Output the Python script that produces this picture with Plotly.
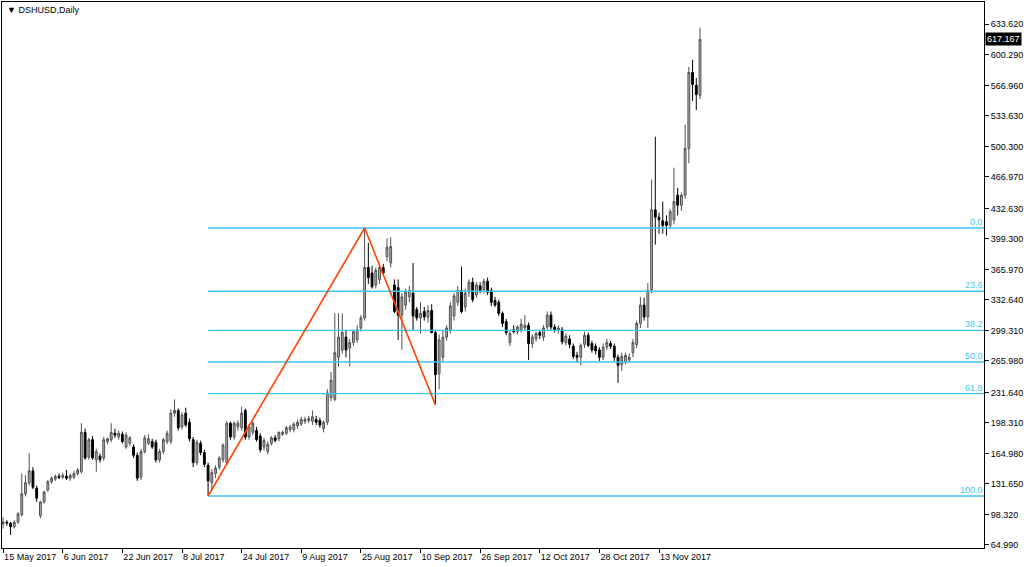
import plotly.graph_objects as go

# daily DSHUSD candles, bar index 0 = 15 May 2017
opens = [88, 90, 89, 85, 90, 98, 121, 133, 146, 127, 97, 112, 125, 134, 137, 140, 139, 140, 138, 139,
         143, 145, 188, 161, 180, 158, 162, 160, 178, 180, 187, 183, 186, 172, 176, 172, 163, 139, 167, 176,
         178, 177, 158, 167, 178, 178, 209, 212, 194, 209, 199, 180, 155, 176, 166, 152, 133, 143, 150, 158,
         155, 198, 183, 194, 193, 212, 183, 188, 190, 184, 172, 167, 176, 182, 181, 186, 187, 191, 191, 195,
         197, 200, 201, 200, 202, 201, 192, 199, 226, 224, 270, 278, 292, 280, 286, 289, 302, 313, 368, 362,
         349, 355, 368, 380, 373, 349, 346, 316, 327, 336, 340, 322, 313, 320, 314, 321, 297, 252, 270, 292,
         300, 315, 330, 343, 325, 341, 352, 338, 348, 344, 353, 343, 332, 330, 318, 309, 286, 300, 298, 300,
         302, 305, 285, 290, 297, 292, 303, 316, 303, 300, 300, 286, 290, 282, 272, 270, 284, 294, 285, 282,
         278, 270, 281, 285, 282, 270, 262, 265, 267, 275, 284, 307, 327, 314, 344, 431, 423, 419, 418, 414,
         420, 447, 436, 447, 498, 581, 567, 556]
highs = [95, 92, 90, 92, 101, 143, 141, 165, 150, 130, 113, 124, 136, 140, 142, 143, 144, 147, 143, 146,
         149, 198, 192, 182, 184, 170, 165, 183, 182, 198, 192, 190, 189, 188, 184, 175, 166, 170, 185, 186,
         181, 180, 170, 182, 190, 213, 224, 214, 210, 215, 203, 183, 180, 179, 169, 155, 148, 152, 162, 176,
         200, 200, 200, 201, 216, 214, 197, 200, 194, 187, 182, 178, 184, 185, 189, 190, 195, 196, 199, 202,
         205, 205, 206, 212, 206, 204, 201, 235, 254, 318, 318, 318, 300, 290, 300, 305, 316, 411.2, 395, 370,
         368, 372, 372, 400, 401, 355, 355, 340, 345, 348, 373, 325, 330, 325, 327, 328, 300, 295, 300, 305,
         330, 340, 348, 369, 345, 355, 357, 352, 352, 356, 357, 346, 336, 333, 320, 312, 300, 305, 305, 312,
         316, 308, 295, 298, 300, 305, 320, 320, 306, 305, 303, 296, 294, 285, 276, 285, 298, 297, 288, 285,
         281, 285, 290, 288, 285, 273, 275, 275, 274, 290, 310, 336, 335, 351, 464, 511, 428, 440, 425, 432,
         477, 455, 450, 524, 587, 595, 575, 630]
lows = [83, 86, 76, 83, 88, 96, 118, 130, 126, 112, 94, 110, 123, 132, 135, 137, 137, 136, 135, 137,
        141, 143, 158, 158, 158, 145, 155, 157, 175, 177, 182, 180, 176, 170, 173, 160, 135, 136, 165, 174,
        170, 155, 155, 164, 175, 175, 205, 190, 191, 194, 178, 150, 152, 163, 150, 118.5, 125, 138, 147, 155,
        152, 180, 180, 190, 190, 180, 180, 185, 178, 166, 168, 164, 174, 177, 178, 184, 185, 188, 188, 192,
        195, 197, 198, 196, 196, 193, 188, 196, 222, 222, 260, 274, 270, 260, 282, 286, 298, 310, 350, 345,
        345, 350, 360, 375, 368, 318, 289, 278, 322, 330, 300, 310, 296, 310, 308, 296, 218, 235, 265, 288,
        296, 310, 326, 318, 320, 336, 330, 335, 340, 340, 338, 326, 325, 315, 303, 294, 282, 296, 295, 297,
        300, 267, 280, 287, 290, 288, 300, 300, 297, 296, 284, 283, 280, 268, 264, 261, 280, 281, 275, 273,
        266, 267, 278, 279, 266, 242, 255, 262, 264, 270, 280, 302, 310, 302, 340, 393, 405, 405, 403, 410,
        415, 425, 430, 443, 482, 550, 540, 552]
closes = [90, 89, 85, 90, 99, 121, 133, 146, 128, 116, 112, 123, 134, 138, 140, 139, 141, 138, 141, 143,
          147, 188, 160, 180, 160, 167, 158, 180, 181, 188, 185, 187, 178, 185, 182, 163, 138, 167, 182, 181,
          172, 158, 167, 180, 187, 209, 212, 193, 207, 196, 181, 155, 177, 166, 153, 135, 144, 149, 160, 174,
          198, 183, 198, 198, 209, 183, 194, 198, 180, 169, 179, 175, 182, 179, 188, 188, 193, 194, 197, 199,
          202, 202, 203, 205, 199, 196, 199, 231, 245, 275, 292, 297, 278, 286, 298, 300, 313, 368, 357, 347,
          365, 368, 362, 390, 391, 320, 316, 336, 341, 343, 315, 313, 318, 314, 321, 297, 251, 289, 292, 302,
          326, 337, 343, 320, 340, 352, 333, 349, 342, 353, 341, 330, 327, 318, 307, 297, 296, 298, 303, 306,
          305, 285, 292, 296, 294, 302, 316, 303, 300, 302, 287, 293, 284, 271, 270, 283, 294, 283, 278, 277,
          270, 281, 286, 282, 270, 261, 271, 272, 270, 286, 307, 327, 314, 343, 431, 423, 420, 414, 414, 429,
          440, 436, 447, 498, 581, 568, 557, 617.167]

date_labels = ["15 May 2017", "6 Jun 2017", "22 Jun 2017", "8 Jul 2017", "24 Jul 2017", "9 Aug 2017",
               "25 Aug 2017", "10 Sep 2017", "26 Sep 2017", "12 Oct 2017", "28 Oct 2017", "13 Nov 2017"]
date_ticks = [0, 16, 32, 48, 64, 80, 96, 112, 128, 144, 160, 176]

price_ticks = [633.620, 600.290, 566.960, 533.630, 500.300, 466.970, 432.630, 399.300, 365.970,
               332.640, 299.310, 265.980, 231.640, 198.310, 164.980, 131.650, 98.320, 64.990]

# zigzag swing points (bar index, price)
zig_x = [55, 97, 116]
zig_y = [118.5, 411.2, 218]
fib_levels = [0.0, 23.6, 38.2, 50.0, 61.8, 100.0]

FIB_COLOR = "#3cc6f2"
FONT = "Liberation Sans, Arial, sans-serif"
X_END = 263.2

bars = list(range(len(closes)))

fig = go.Figure()
fig.add_trace(go.Candlestick(
    x=bars, open=opens, high=highs, low=lows, close=closes,
    increasing=dict(line=dict(color="#505050", width=1), fillcolor="#b4b4b4"),
    decreasing=dict(line=dict(color="#000000", width=1), fillcolor="#000000"),
    whiskerwidth=0, showlegend=False, hoverinfo="skip",
))

hi, lo = zig_y[1], zig_y[0]
for lvl in fib_levels:
    price = hi - (hi - lo) * lvl / 100
    fig.add_trace(go.Scatter(
        x=[zig_x[0], X_END], y=[price, price], mode="lines",
        line=dict(color=FIB_COLOR, width=1.4), showlegend=False, hoverinfo="skip",
    ))
    fig.add_annotation(x=X_END, y=price, xref="x", yref="y", text=f"{lvl:.1f}",
                       showarrow=False, xanchor="right", yanchor="bottom", xshift=1, yshift=-1,
                       font=dict(family=FONT, size=9, color=FIB_COLOR))

fig.add_trace(go.Scatter(
    x=zig_x, y=zig_y, mode="lines",
    line=dict(color="#ff4500", width=1.6), showlegend=False, hoverinfo="skip",
))

fig.add_annotation(x=0, y=1, xref="paper", yref="paper", text="▼ DSHUSD,Daily",
                   showarrow=False, xanchor="left", yanchor="top", xshift=3, yshift=-1,
                   font=dict(family=FONT, size=9, color="#000000"))
fig.add_annotation(x=1, y=closes[-1], xref="paper", yref="y", text=f"{closes[-1]:.3f}",
                   showarrow=False, xanchor="left", xshift=1, bgcolor="#000000",
                   borderpad=1, font=dict(family=FONT, size=9, color="#ffffff"))

fig.update_layout(
    width=1024, height=567,
    paper_bgcolor="#ffffff", plot_bgcolor="#ffffff",
    margin=dict(l=2, r=40, t=2, b=19, autoexpand=False),
    font=dict(family=FONT, size=9, color="#000000"),
    xaxis_rangeslider_visible=False,
)
fig.update_xaxes(
    range=[-0.3, X_END], showgrid=False, zeroline=False, automargin=False,
    showline=True, linecolor="#000000", linewidth=1, mirror=True,
    tickvals=date_ticks, ticktext=date_labels, ticks="outside", ticklen=4,
    tickcolor="#000000", ticklabelposition="outside right", tickangle=0,
    tickfont=dict(family=FONT, size=9),
)
fig.update_yaxes(
    range=[61.7, 658.0], side="right", showgrid=False, zeroline=False, automargin=False,
    showline=True, linecolor="#000000", linewidth=1, mirror=True,
    tickvals=price_ticks, ticktext=[f"{v:.3f}" for v in price_ticks],
    ticks="outside", ticklen=4, tickcolor="#000000",
    tickfont=dict(family=FONT, size=9),
)

# the page's default body margin would shift the figure by 8px
fig.write_html("out.html", config={"displayModeBar": False},
               post_script="document.body.style.margin='0px';")
